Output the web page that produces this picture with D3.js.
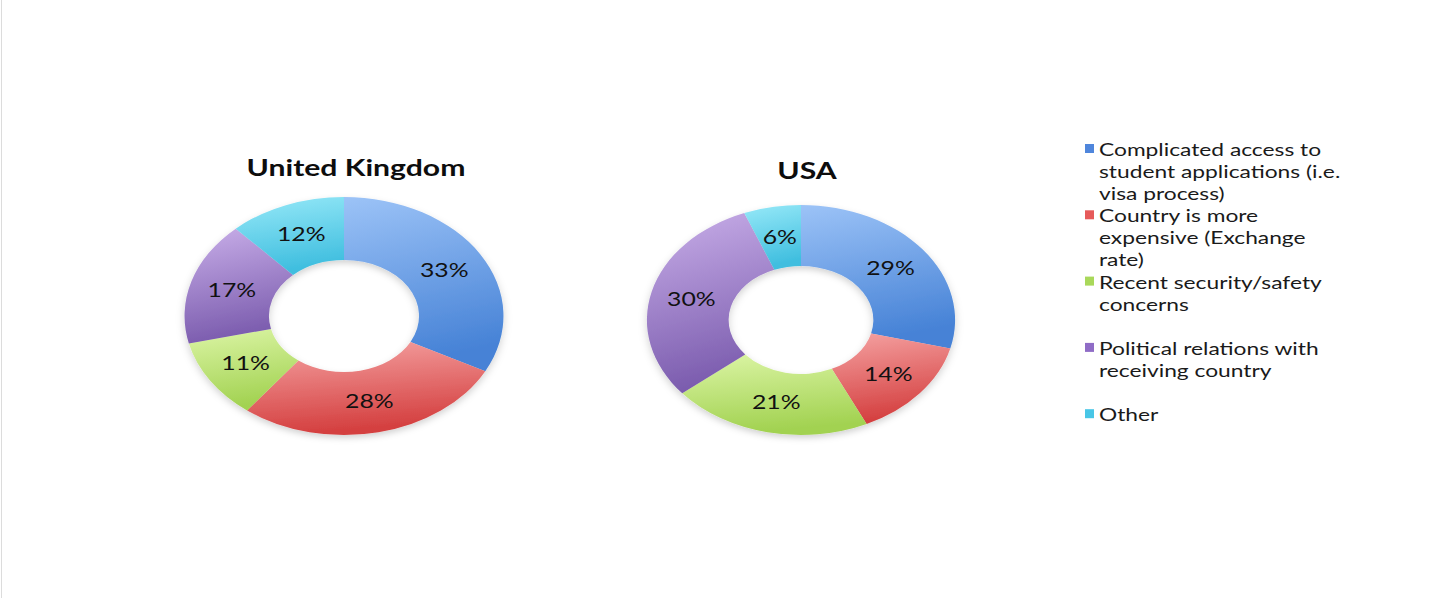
<!DOCTYPE html>
<html>
<head>
<meta charset="utf-8">
<script src="https://cdn.jsdelivr.net/npm/d3@7"></script>
<style>
  body { margin: 0; background: #fff; }
  svg { display: block; }
</style>
</head>
<body>
<svg id="chart"></svg>
<script>
// data
const categories = [
  ["Complicated access to", "student applications (i.e.", "visa process)"],
  ["Country is more", "expensive (Exchange", "rate)"],
  ["Recent security/safety", "concerns"],
  ["Political relations with", "receiving country"],
  ["Other"]
];
const countries = ["United Kingdom", "USA"];
const ukValues = [33, 28, 11, 17, 12];
const usaValues = [29, 14, 21, 30, 6];

const width = 1430, height = 598;
const sx = 1.34; // source picture is stretched sideways

const topColors = ["#9cc3f7", "#f5a3a3", "#dcf5a6", "#c9afe9", "#97e9f8"];
const bottomColors = ["#4682d6", "#d43f3f", "#a2d251", "#7b5cae", "#3fbedf"];
const keyColors = ["#4f86dc", "#e65a5a", "#a9d85a", "#8f6cc6", "#48c6e6"];

const svg = d3.select("#chart")
  .attr("width", width)
  .attr("height", height)
  .attr("viewBox", `0 0 ${width} ${height}`);

svg.append("rect")
  .attr("width", width).attr("height", height)
  .attr("fill", "#fff");
svg.append("line")
  .attr("x1", 1.5).attr("x2", 1.5).attr("y1", 0).attr("y2", height)
  .attr("stroke", "#dcdcdc").attr("stroke-width", 1);

const defs = svg.append("defs");
topColors.forEach((c, i) => {
  const grad = defs.append("linearGradient")
    .attr("id", "grad" + i)
    .attr("x1", 0).attr("y1", 0).attr("x2", 0.2).attr("y2", 1);
  grad.append("stop").attr("offset", "0%").attr("stop-color", c);
  grad.append("stop").attr("offset", "100%").attr("stop-color", bottomColors[i]);
});
defs.append("filter").attr("id", "shadow")
  .attr("x", "-20%").attr("y", "-20%").attr("width", "140%").attr("height", "140%")
  .append("feDropShadow")
  .attr("dx", 0).attr("dy", 3).attr("stdDeviation", 3)
  .attr("flood-color", "#000").attr("flood-opacity", 0.18);

const font = "Lato, 'Open Sans', sans-serif";

function drawDonut(values, title, cx, cy, outer, inner, titleX, titleY) {
  const pie = d3.pie().sort(null).value(d => d);
  const arc = d3.arc().innerRadius(inner).outerRadius(outer);
  const labelArc = d3.arc().innerRadius((inner + outer) / 2).outerRadius((inner + outer) / 2);
  const arcs = pie(values);

  const g = svg.append("g")
    .attr("transform", `translate(${cx},${cy}) scale(${sx},1)`);

  g.append("g")
    .attr("filter", "url(#shadow)")
    .selectAll("path")
    .data(arcs)
    .join("path")
    .attr("d", arc)
    .attr("fill", (d, i) => `url(#grad${i})`);

  g.selectAll("text.lbl")
    .data(arcs)
    .join("text")
    .attr("class", "lbl")
    .attr("x", d => labelArc.centroid(d)[0])
    .attr("y", d => labelArc.centroid(d)[1])
    .attr("dy", "0.36em")
    .attr("text-anchor", "middle")
    .attr("font-family", font)
    .attr("font-size", 18.5)
    .attr("fill", "#111")
    .text(d => d.data + "%");

  svg.append("text")
    .attr("transform", `translate(${titleX},${titleY}) scale(${sx},1)`)
    .attr("text-anchor", "middle")
    .attr("font-family", font)
    .attr("font-weight", "bold")
    .attr("font-size", 22.5)
    .attr("fill", "#0d0d0d")
    .text(title);
}

drawDonut(ukValues, countries[0], 344, 316, 119, 56, 356, 176);
drawDonut(usaValues, countries[1], 801, 320, 115, 54, 807, 179);

// legend
const legend = svg.append("g");
const itemStep = 66.3, lineStep = 22;
categories.forEach((lines, i) => {
  const y0 = 156 + i * itemStep;
  legend.append("rect")
    .attr("x", 1085).attr("y", y0 - 12)
    .attr("width", 9).attr("height", 9)
    .attr("fill", keyColors[i]);
  const t = legend.append("text")
    .attr("transform", `translate(1099,${y0}) scale(${sx},1)`)
    .attr("font-family", font)
    .attr("font-size", 17)
    .attr("fill", "#1a1a1a");
  lines.forEach((s, j) => {
    t.append("tspan").attr("x", 0).attr("y", j * lineStep).text(s);
  });
});
</script>
</body>
</html>
